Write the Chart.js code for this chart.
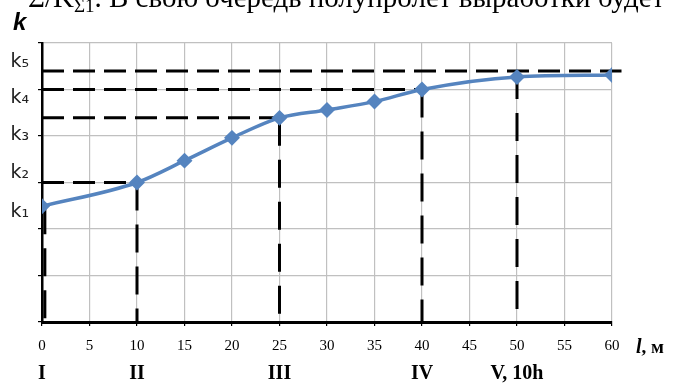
<!DOCTYPE html>
<html>
<head>
<meta charset="utf-8">
<script src="https://cdn.jsdelivr.net/npm/chart.js@4"></script>
<style>
  html, body { margin: 0; padding: 0; background: #fff; }
  #wrap { position: relative; width: 675px; height: 385px; }
</style>
</head>
<body>
<div id="wrap"><canvas id="chart"></canvas></div>
<script>
// curve k(l)
const L_VALUES = [0, 10, 15, 20, 25, 30, 35, 40, 50, 60];
const K_VALUES = [2.49, 3.0, 3.47, 3.96, 4.39, 4.56, 4.74, 5.0, 5.27, 5.31];

// k level labels on the left axis
const K_LABELS = ['k₁', 'k₂', 'k₃', 'k₄', 'k₅'];
const K_LABEL_AT = [2.37, 3.2, 4.02, 4.82, 5.59];

// stages under the l axis
const STAGES = ['I', 'II', 'III', 'IV', 'V, 10h'];
const STAGE_AT = [0, 10, 25, 40, 50];
const STAGE_TOP = [2.49, 3.0, 4.39, 5.0, 5.4];

// horizontal guide levels and where they stop
const LEVELS = [3.0, 4.39, 5.0, 5.4];
const LEVEL_END = [10, 25, 40, 61];

const guide = (pts, dash) => ({
  data: pts,
  borderColor: '#000',
  borderWidth: 3,
  borderDash: dash,
  pointRadius: 0,
  tension: 0,
  clip: false,
  order: 2,
});

const datasets = [
  {
    data: L_VALUES.map((x, i) => ({ x, y: K_VALUES[i] })),
    borderColor: '#5584bf',
    backgroundColor: '#5584bf',
    borderWidth: 3.5,
    pointStyle: 'rectRot',
    pointRadius: 5.5,
    cubicInterpolationMode: 'monotone',
    order: 1,
  },
  ...LEVELS.map((y, i) => guide([{ x: 0, y }, { x: LEVEL_END[i], y }], [22, 9])),
  ...STAGE_AT.map((x, i) => guide([{ x: Math.max(x, 0.3), y: STAGE_TOP[i] }, { x: Math.max(x, 0.3), y: 0 }], [28, 14])),
];

const texts = {
  id: 'texts',
  afterDraw(chart) {
    const ctx = chart.ctx;
    ctx.save();
    ctx.fillStyle = '#000';
    ctx.textBaseline = 'alphabetic';
    // line of body text cut by the top edge
    ctx.font = '29px "Liberation Serif"';
    ctx.fillText('Σ/K', 28, 7);
    let w = ctx.measureText('Σ/K').width;
    ctx.font = '19px "Liberation Serif"';
    ctx.fillText('Σ1', 28 + w, 12);
    w += ctx.measureText('Σ1').width;
    ctx.font = '29px "Liberation Serif"';
    ctx.fillText('. В свою очередь полупролет выработки будет', 28 + w, 7);
    // axis names
    ctx.font = 'italic bold 24px "Liberation Sans"';
    ctx.fillText('k', 13, 30);
    ctx.font = 'italic bold 20px "Liberation Serif"';
    ctx.fillText('l', 636, 353);
    const lw = ctx.measureText('l').width;
    ctx.font = 'bold 19px "Liberation Serif"';
    ctx.fillText(', м', 636 + lw, 353);
    ctx.restore();
  }
};

new Chart(document.getElementById('chart'), {
  type: 'line',
  data: { datasets },
  options: {
    responsive: true,
    maintainAspectRatio: false,
    animation: false,
    layout: { padding: { top: 43, right: 63, left: 0, bottom: 0 } },
    plugins: { legend: { display: false }, tooltip: { enabled: false } },
    scales: {
      x: {
        type: 'linear',
        min: 0,
        max: 60,
        afterFit: s => { s.height = 30; },
        ticks: {
          stepSize: 5,
          padding: 11,
          color: '#000',
          font: { family: 'Liberation Serif', size: 15 },
          maxRotation: 0,
        },
        grid: { color: '#c0c0c0', lineWidth: 1.2, tickColor: '#000', tickLength: 4 },
        border: { color: '#000', width: 3 },
      },
      xr: {
        type: 'linear',
        position: 'bottom',
        min: 0,
        max: 60,
        afterFit: s => { s.height = 33; },
        afterBuildTicks: s => { s.ticks = STAGE_AT.map(v => ({ value: v })); },
        ticks: {
          autoSkip: false,
          maxRotation: 0,
          padding: 2,
          color: '#000',
          font: { family: 'Liberation Serif', size: 20, weight: 'bold' },
          callback: v => STAGES[STAGE_AT.indexOf(v)],
        },
        grid: { display: false },
        border: { display: false },
      },
      y: {
        min: 0,
        max: 6,
        afterFit: s => { s.width = 0; },
        ticks: { stepSize: 1, display: false },
        grid: { color: '#c0c0c0', lineWidth: 1.2, tickColor: '#000', tickLength: 4 },
        border: { color: '#000', width: 2.5 },
      },
      yk: {
        position: 'left',
        min: 0,
        max: 6,
        afterFit: s => { s.width = 42; },
        afterBuildTicks: s => { s.ticks = K_LABEL_AT.map(v => ({ value: v })); },
        ticks: {
          autoSkip: false,
          padding: 5,
          color: '#222',
          font: { family: 'DejaVu Sans', size: 19 },
          callback: v => K_LABELS[K_LABEL_AT.indexOf(v)],
        },
        grid: { display: false },
        border: { display: false },
      },
    },
  },
  plugins: [texts],
});
</script>
</body>
</html>
